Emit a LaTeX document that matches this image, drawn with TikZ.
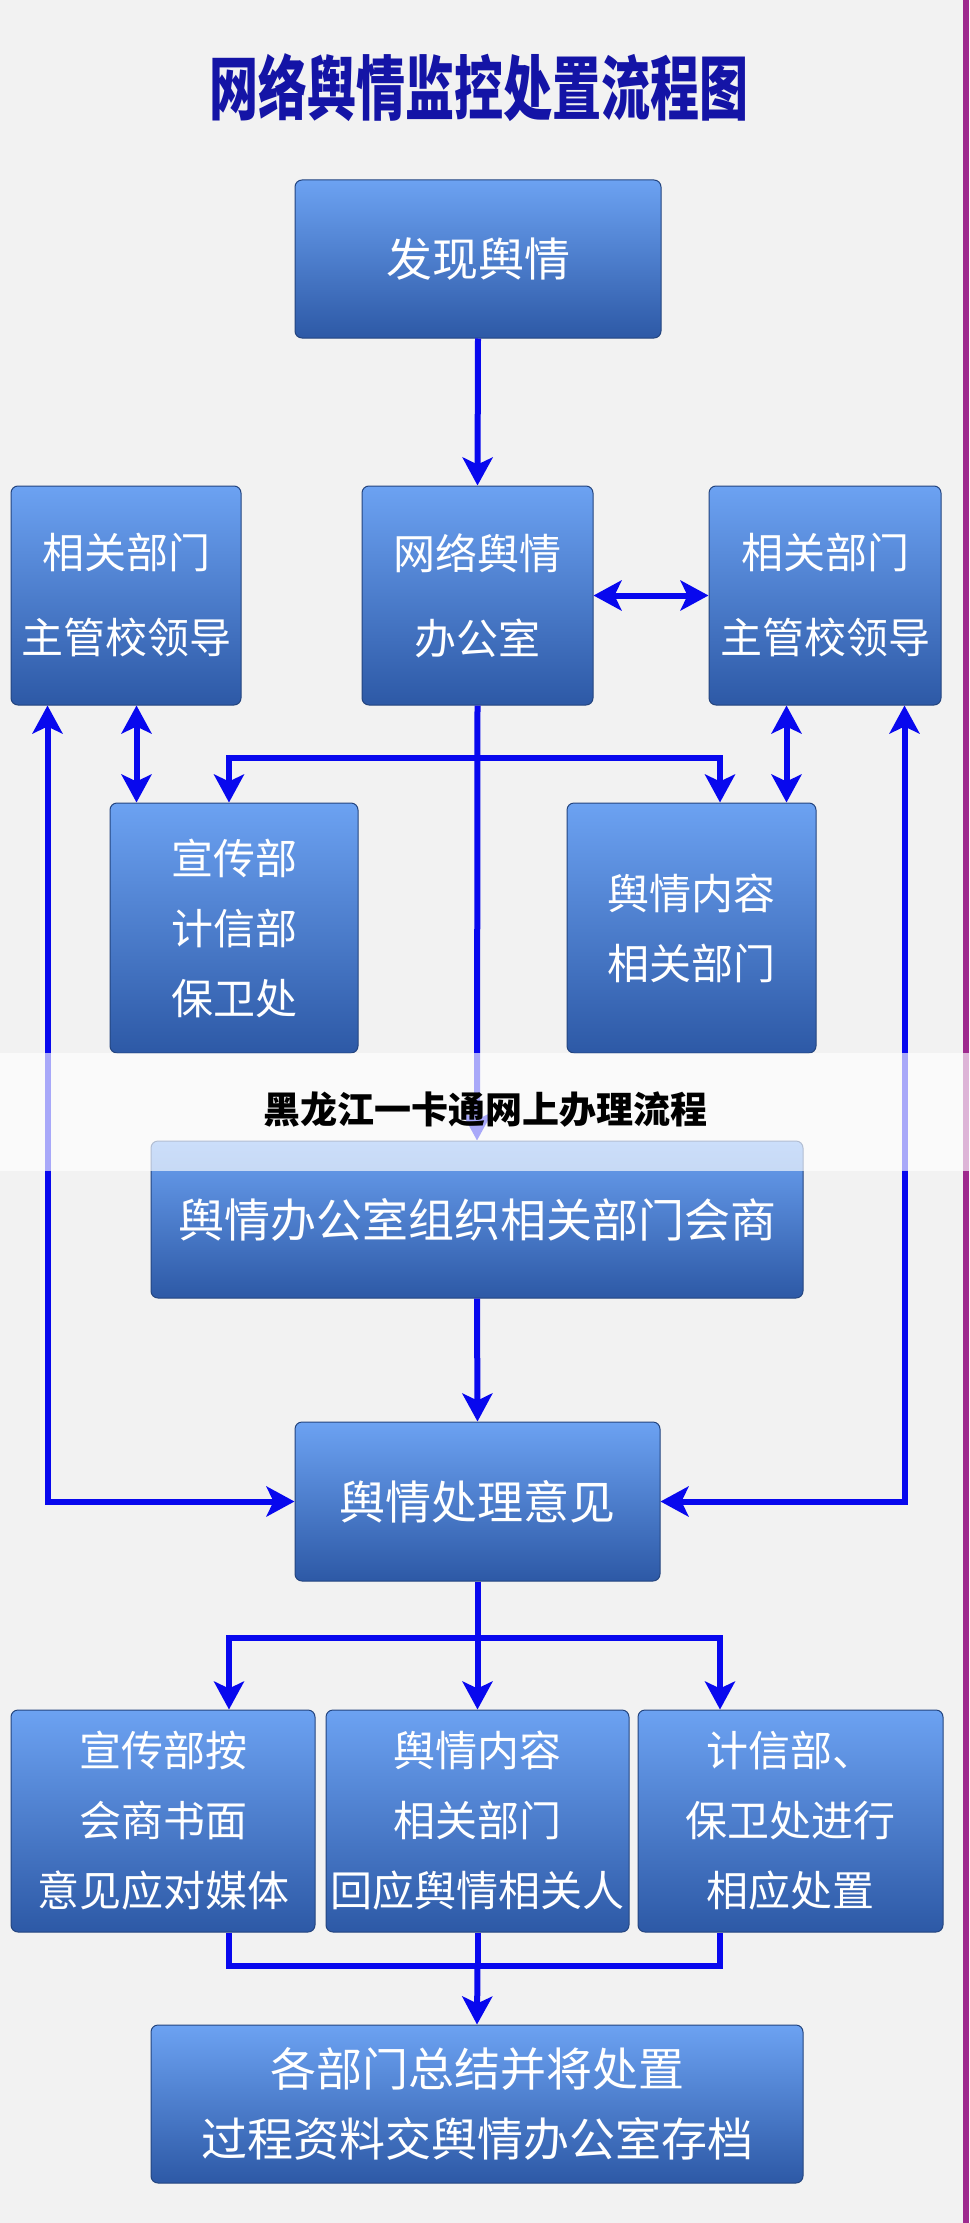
\documentclass[tikz,border=0pt]{standalone}
\usepackage{fontspec}
\newfontfamily\cjk{Noto Sans CJK SC}
\usepackage{tikz}
\usetikzlibrary{arrows.meta}
\usepackage{xcolor}
\definecolor{fond}{HTML}{F2F2F2}
\definecolor{bordviolet}{HTML}{9E2A8E}
\definecolor{titrebleu}{HTML}{1414A6}
\definecolor{boitehaut}{HTML}{6CA2F2}
\definecolor{boitebas}{HTML}{2D59A6}
\definecolor{boitebord}{HTML}{24457F}
\definecolor{flechebleu}{HTML}{0808EE}
\tikzset{
    pointe/.tip={Stealth[length=28pt,width=30pt,inset=7pt]},
    fleche/.style={line width=6pt, draw=flechebleu},
    boite/.style={draw=boitebord, line width=1pt, rounded corners=7pt,
        top color=boitehaut, bottom color=boitebas, text=white,
        align=center, inner sep=0pt},
    grand/.style={font=\cjk\fontsize{46}{70}\selectfont},
    petit/.style={font=\cjk\fontsize{42}{70}\selectfont},
    haut/.style={font=\cjk\fontsize{42}{85}\selectfont},
    titre/.style={text=titrebleu, font=\cjk\bfseries\fontsize{49}{60}\selectfont},
    filigrane/.style={text=black, font=\cjk\bfseries\fontsize{37}{40}\selectfont}
}
\begin{document}
\begin{tikzpicture}[x=1pt,y=-1pt]
    % fond gris
    \fill[fond] (0,0) rectangle (969,2223);
    \useasboundingbox (0,0) rectangle (969,2223);
    \fill[bordviolet] (963,0) rectangle (969,2223);
    \node[titre] (titre) at (479,88) {\scalebox{1}[1.43]{网络舆情监控处置流程图}};
    % boites
    \node[boite, grand, minimum width=366pt, minimum height=158pt] (decouverte) at (478,259) {发现舆情};
    \node[boite, haut, minimum width=230pt, minimum height=219pt] (chefsG) at (126,595.5) {相关部门\\主管校领导};
    \node[boite, haut, minimum width=231pt, minimum height=219pt] (bureau) at (477.5,595.5) {网络舆情\\办公室};
    \node[boite, haut, minimum width=232pt, minimum height=219pt] (chefsD) at (825,595.5) {相关部门\\主管校领导};
    \node[boite, petit, minimum width=248pt, minimum height=250pt] (propagande) at (234,928) {宣传部\\计信部\\保卫处};
    \node[boite, petit, minimum width=249pt, minimum height=250pt] (contenu) at (691.5,928) {舆情内容\\相关部门};
    \node[boite, grand, minimum width=652pt, minimum height=157pt] (concertation) at (477,1219.5) {舆情办公室组织相关部门会商};
    \node[boite, grand, minimum width=365pt, minimum height=159pt] (avis) at (477.5,1501.5) {舆情处理意见};
    \node[boite, petit, minimum width=304pt, minimum height=222pt] (medias) at (163,1821) {宣传部按\\会商书面\\意见应对媒体};
    \node[boite, petit, minimum width=303pt, minimum height=222pt] (reponse) at (477.5,1821) {舆情内容\\相关部门\\回应舆情相关人};
    \node[boite, petit, minimum width=305pt, minimum height=222pt] (securite) at (790.5,1821) {计信部、\\保卫处进行\\相应处置};
    \node[boite, grand, minimum width=652pt, minimum height=158pt] (archive) at (477,2104) {各部门总结并将处置\\过程资料交舆情办公室存档};
    % fleches
    \draw[fleche, -pointe] (decouverte.south) -- (bureau.north);
    \draw[fleche, pointe-pointe] (bureau.east) -- (chefsD.west);
    \draw[fleche, pointe-pointe] ([xshift=27pt]propagande.north west) -- ([xshift=27pt]propagande.north west |- chefsG.south);
    \draw[fleche, pointe-pointe] ([xshift=-30pt]contenu.north east) -- ([xshift=-30pt]contenu.north east |- chefsD.south);
    \draw[fleche, pointe-pointe] ([xshift=37pt]chefsG.south west) |- (avis.west);
    \draw[fleche, pointe-pointe] ([xshift=-37pt]chefsD.south east) |- (avis.east);
    \draw[fleche, -pointe] (bureau.south) -- (concertation.north);
    \coordinate (fourche1) at ([yshift=-52pt]bureau.south);
    \draw[fleche, -pointe] (fourche1) -| ([xshift=-5pt]propagande.north);
    \draw[fleche, -pointe] (fourche1) -| ([xshift=28.5pt]contenu.north);
    \draw[fleche, -pointe] (concertation.south) -- (avis.north);
    \coordinate (fourche2) at ([yshift=-56pt]avis.south);
    \draw[fleche] (avis.south) -- (fourche2);
    \draw[fleche, -pointe] (fourche2) -- (reponse.north);
    \draw[fleche, -pointe] (fourche2) -| ([xshift=66pt]medias.north);
    \draw[fleche, -pointe] (fourche2) -| ([xshift=-70.5pt]securite.north);
    \coordinate (jonction) at ([yshift=-33pt]reponse.south);
    \draw[fleche] ([xshift=66pt]medias.south) |- (jonction) -| ([xshift=-70.5pt]securite.south);
    \draw[fleche] (reponse.south) -- (jonction);
    \draw[fleche, -pointe] (jonction) -- (archive.north);
    % bandeau
    \fill[white, opacity=0.65] (0,1053) rectangle (969,1171);
    \node[filigrane] (filigrane) at (485,1110) {黑龙江一卡通网上办理流程};
\end{tikzpicture}
\end{document}
